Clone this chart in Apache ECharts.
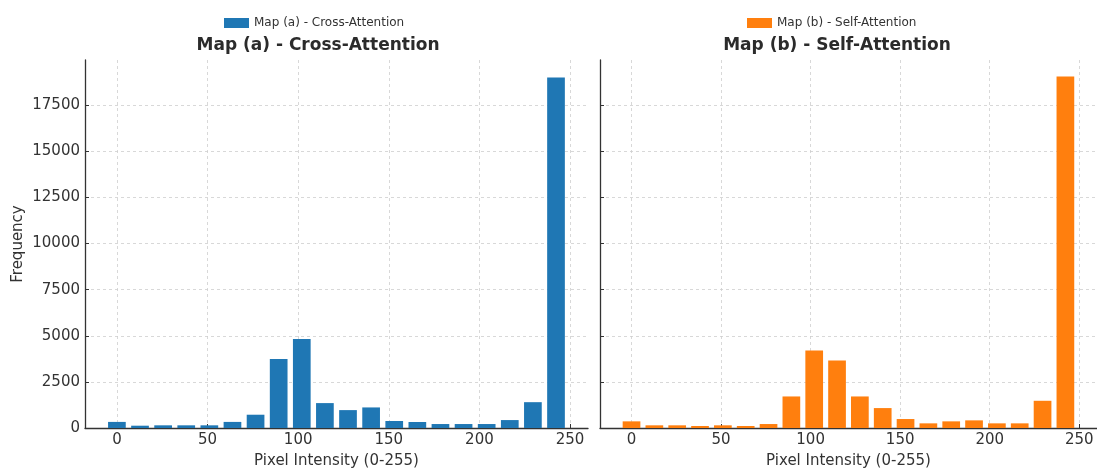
<!DOCTYPE html>
<html>
<head>
<meta charset="utf-8">
<script src="https://cdn.jsdelivr.net/npm/echarts@6/dist/echarts.min.js"></script>
<style>
  html, body { margin: 0; padding: 0; background: #fff; }
  #chart { width: 1097px; height: 474px; }
</style>
</head>
<body>
<div id="chart"></div>
<script>
// histogram bins: 20 bins over 0-255, bars drawn at left bin edge
const binStarts = [0, 12.75, 25.5, 38.25, 51, 63.75, 76.5, 89.25, 102, 114.75,
  127.5, 140.25, 153, 165.75, 178.5, 191.25, 204, 216.75, 229.5, 242.25];
const crossAttn = [330, 125, 145, 145, 145, 330, 720, 3740, 4820, 1350,
  970, 1115, 380, 324, 215, 215, 215, 430, 1400, 19000];
const selfAttn = [360, 145, 145, 110, 145, 110, 215, 1710, 4195, 3655,
  1710, 1080, 486, 252, 360, 414, 252, 252, 1475, 19050];
const xTicks = [0, 50, 100, 150, 200, 250];
const yTicks = [0, 2500, 5000, 7500, 10000, 12500, 15000, 17500];

const nameA = "Map (a) - Cross-Attention";
const nameB = "Map (b) - Self-Attention";
const font = "DejaVu Sans";
const ink = "#333";

function pairs(vals) {
  return vals.map((v, i) => [binStarts[i], v]);
}

function xAxisFor(idx) {
  return {
    type: "value",
    gridIndex: idx,
    min: -17.6,
    max: 259.9,
    name: "Pixel Intensity (0-255)",
    nameLocation: "middle",
    nameGap: 26,
    nameTextStyle: { fontFamily: font, fontSize: 15, color: ink },
    axisLine: { show: true, onZero: false, lineStyle: { color: ink, width: 1.3 } },
    axisTick: { show: true, inside: true, length: 4, customValues: xTicks, lineStyle: { color: ink } },
    axisLabel: { customValues: xTicks, margin: 5, fontFamily: font, fontSize: 15, color: ink,
      formatter: (v) => String(v) },
    splitLine: { show: true, lineStyle: { color: "#cfcfcf", type: [3, 3], width: 0.8 } },
  };
}

function yAxisFor(idx, showLabels) {
  return {
    type: "value",
    gridIndex: idx,
    min: 0,
    max: 19950,
    name: showLabels ? "Frequency" : "",
    nameLocation: "middle",
    nameGap: 59,
    nameTextStyle: { fontFamily: font, fontSize: 15, color: ink },
    axisLine: { show: true, onZero: false, lineStyle: { color: ink, width: 1.3 } },
    axisTick: { show: true, inside: true, length: 4, customValues: yTicks, lineStyle: { color: ink } },
    axisLabel: { show: showLabels, customValues: yTicks, margin: 5, fontFamily: font, fontSize: 15, color: ink,
      formatter: (v) => String(v) },
    splitLine: { show: true, lineStyle: { color: "#cfcfcf", type: [3, 3], width: 0.8 } },
  };
}

const chart = echarts.init(document.getElementById("chart"));
const option = {
  animation: false,
  backgroundColor: "#fff",
  title: [
    { text: nameA, left: 318, top: 37, textAlign: "center", padding: 0,
      textStyle: { fontFamily: font, fontSize: 17, fontWeight: "bold", color: "#2b2b2b" } },
    { text: nameB, left: 837, top: 37, textAlign: "center", padding: 0,
      textStyle: { fontFamily: font, fontSize: 17, fontWeight: "bold", color: "#2b2b2b" } },
  ],
  legend: [
    { data: [nameA], left: 224, top: 17, padding: 0, icon: "rect", itemWidth: 25, itemHeight: 10, itemGap: 10,
      textStyle: { fontFamily: font, fontSize: 12, color: ink } },
    { data: [nameB], left: 747, top: 17, padding: 0, icon: "rect", itemWidth: 25, itemHeight: 10, itemGap: 10,
      textStyle: { fontFamily: font, fontSize: 12, color: ink } },
  ],
  grid: [
    { left: 85, top: 60, width: 503, height: 370 },
    { left: 600, top: 60, width: 504, height: 370 },
  ],
  xAxis: [xAxisFor(0), xAxisFor(1)],
  yAxis: [yAxisFor(0, true), yAxisFor(1, false)],
  series: [
    { name: nameA, type: "bar", xAxisIndex: 0, yAxisIndex: 0, barWidth: 17.7,
      itemStyle: { color: "#1f77b4" }, data: pairs(crossAttn) },
    { name: nameB, type: "bar", xAxisIndex: 1, yAxisIndex: 1, barWidth: 17.7,
      itemStyle: { color: "#ff7f0e" }, data: pairs(selfAttn) },
  ],
};
chart.setOption(option);
</script>
</body>
</html>
